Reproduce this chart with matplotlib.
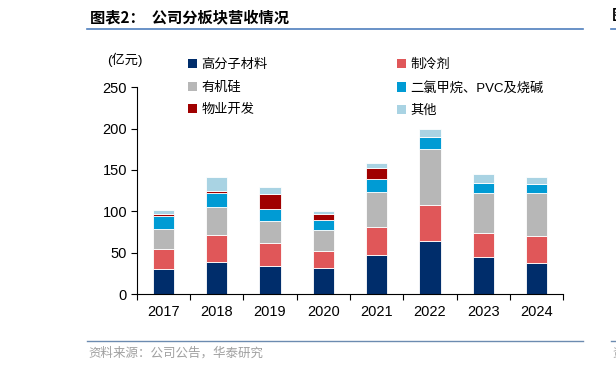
import numpy as np
import matplotlib.pyplot as plt
from matplotlib.patches import Patch
from matplotlib.lines import Line2D

plt.rcParams['font.family'] = ['Liberation Sans', 'Noto Sans CJK SC']

# data (亿元)
years = ["2017", "2018", "2019", "2020", "2021", "2022", "2023", "2024"]
polymer = [30.0, 38.3, 34.3, 31.9, 47.6, 64.5, 45.2, 37.9]      # 高分子材料
refrigerant = [24.0, 33.1, 27.0, 20.5, 33.9, 43.6, 29.0, 32.7]   # 制冷剂
silicone = [24.6, 33.8, 27.0, 24.6, 41.9, 66.9, 48.4, 52.0]      # 有机硅
dcm_pvc = [16.2, 17.0, 14.5, 12.1, 15.3, 15.3, 11.7, 10.5]       # 二氯甲烷、PVC及烧碱
property_dev = [2.4, 2.8, 18.6, 7.3, 14.1, 0.0, 0.0, 0.0]        # 物业开发
other = [4.0, 16.9, 8.0, 4.0, 5.7, 9.7, 10.5, 8.8]               # 其他

series = [
    ("高分子材料", polymer, "#002D6B"),
    ("制冷剂", refrigerant, "#E05759"),
    ("有机硅", silicone, "#B7B7B7"),
    ("二氯甲烷、PVC及烧碱", dcm_pvc, "#009BD4"),
    ("物业开发", property_dev, "#A00000"),
    ("其他", other, "#A9D3E3"),
]

fig = plt.figure(figsize=(6.16, 3.71), dpi=100)
ax = fig.add_axes([0.222, 0.2075, 0.6925, 0.5572])

x = np.arange(len(years))
bottom = np.zeros(len(years))
handles = {}
for name, vals, color in series:
    vals = np.array(vals)
    ax.bar(x, vals, 0.4, bottom=bottom, color=color, edgecolor="white", linewidth=0.6)
    bottom += vals
    handles[name] = Patch(facecolor=color, edgecolor="none")

ax.set_xlim(-0.5, len(years) - 0.5)
ax.set_ylim(0, 250)
ax.set_yticks([0, 50, 100, 150, 200, 250])
ax.set_xticks(x)
ax.set_xticklabels(years)
ax.set_xticks(np.arange(-0.5, len(years)), minor=True)
ax.tick_params(axis="x", which="major", length=0, pad=8, labelsize=10.5)
ax.tick_params(axis="x", which="minor", length=4, direction="out", width=0.8)
ax.tick_params(axis="y", length=4, width=0.8, labelsize=10.5, pad=3)
for s in ["top", "right"]:
    ax.spines[s].set_visible(False)
ax.spines["left"].set_linewidth(0.8)
ax.spines["bottom"].set_linewidth(0.8)

ax.text(-0.027, 1.132, "(亿元)", transform=ax.transAxes, ha="center", va="center", fontsize=9.5)

order = ["高分子材料", "有机硅", "物业开发", "制冷剂", "二氯甲烷、PVC及烧碱", "其他"]
fig.legend([handles[k] for k in order], order, ncol=2, frameon=False,
           loc="upper left", bbox_to_anchor=(188 / 616, 1 - 59 / 371), fontsize=9.5,
           borderpad=0, borderaxespad=0,
           handlelength=0.7, handleheight=0.7, handletextpad=0.3,
           columnspacing=9.8, labelspacing=0.78)

# header / footer
fig.text(90 / 616, 1 - 17 / 371, "图表2：  公司分板块营收情况", fontsize=11, fontweight="bold",
         ha="left", va="center", family=["Noto Sans CJK SC"])
fig.add_artist(Line2D([87 / 616, 583 / 616], [1 - 29 / 371] * 2, color="#4F7FBE", lw=1.2))
fig.add_artist(Line2D([611 / 616, 1.0], [1 - 29 / 371] * 2, color="#4F7FBE", lw=1.2))
fig.text(612 / 616, 1 - 15 / 371, "图", fontsize=11, fontweight="bold", ha="left", va="center",
         family=["Noto Sans CJK SC"])
fig.add_artist(Line2D([87 / 616, 583 / 616], [1 - 341 / 371] * 2, color="#6C8BB0", lw=1.0))
fig.add_artist(Line2D([611 / 616, 1.0], [1 - 341 / 371] * 2, color="#6C8BB0", lw=1.0))
fig.text(88 / 616, 1 - 353 / 371, "资料来源：公司公告，华泰研究", fontsize=9, color="#A0A0A0",
         ha="left", va="center", family=["Noto Sans CJK SC"])
fig.text(612 / 616, 1 - 353 / 371, "资", fontsize=9, color="#A0A0A0", ha="left", va="center",
         family=["Noto Sans CJK SC"])

fig.savefig("out.png", dpi=100)
